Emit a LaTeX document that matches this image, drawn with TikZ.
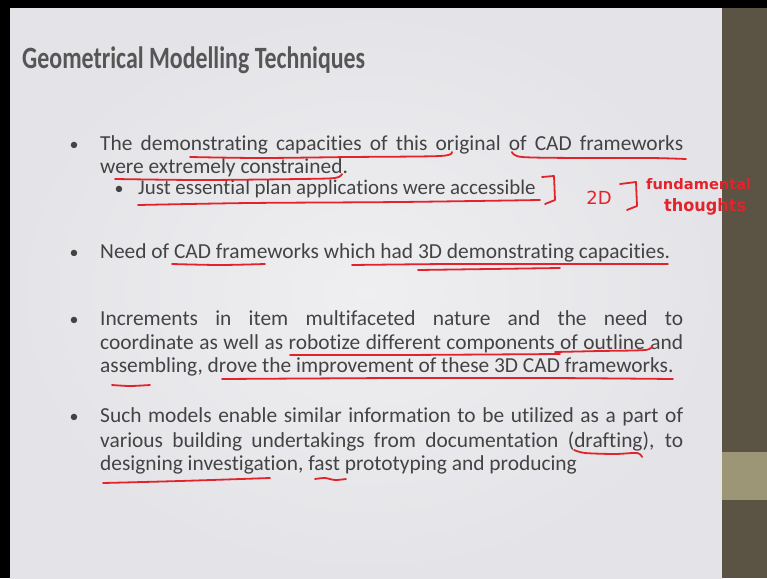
\documentclass[tikz,border=0pt]{standalone}
\usepackage{fontspec}
\setmainfont{Carlito}[Ligatures=NoCommon]
\newfontfamily\handfont{DejaVu Sans}
\definecolor{slidebg}{HTML}{E4E4E8}
\definecolor{stripc}{HTML}{5B5444}
\definecolor{stripl}{HTML}{9C9677}
\definecolor{bodyc}{HTML}{434343}
\definecolor{titlec}{HTML}{565656}
\definecolor{inkc}{HTML}{E3222B}
\tikzset{
  body/.style={anchor=base west, inner sep=0pt, text=bodyc, font=\fontsize{21.4}{25}\selectfont},
  subbody/.style={anchor=base west, inner sep=0pt, text=bodyc, font=\fontsize{20.9}{25}\selectfont},
  dot/.style={anchor=base, inner sep=0pt, text=bodyc, font=\fontsize{18}{24}\selectfont},
  ink/.style={draw=inkc, line width=1.8pt, line cap=round, line join=round},
  hand/.style={inner sep=0pt, text=inkc}
}
\begin{document}
\begin{tikzpicture}[x=1pt,y=-1pt]
\useasboundingbox (0,0) rectangle (767,578);
% background
\fill[slidebg] (0,0) rectangle (722,578);
\shade[inner color=white!40!slidebg, outer color=slidebg] (10,8) rectangle (722,578);
\fill[stripc] (722,0) rectangle (767,578);
\fill[stripl] (722,452) rectangle (767,500);
\fill[black] (0,0) rectangle (767,8);
\fill[black] (0,0) rectangle (10,578);
% title
\node[anchor=base west, inner sep=0pt, text=titlec, font=\fontsize{31}{36}\bfseries] (title) at (22,68) {\resizebox{343pt}{\height}{Geometrical Modelling Techniques}};
% bullets
\node[dot] (b1) at (74,150) {\textbullet};
\node[body] (l1) at (100,150) {\makebox[583pt][s]{The demonstrating capacities of this original of CAD frameworks}};
\node[body] (l2) at (100,173) {were extremely constrained.};
\node[dot] (b1s) at (119,194) {\textbullet};
\node[subbody] (s1) at (138,194) {Just essential plan applications were accessible};
\node[dot] (b2) at (74,258) {\textbullet};
\node[body] (l3) at (100,258) {Need of CAD frameworks which had 3D demonstrating capacities.};
\node[dot] (b3) at (74,325) {\textbullet};
\node[body] (l4) at (100,325) {\makebox[583pt][s]{Increments in item multifaceted nature and the need to}};
\node[body] (l5) at (100,349) {\makebox[583pt][s]{coordinate as well as robotize different components of outline and}};
\node[body] (l6) at (100,372) {assembling, drove the improvement of these 3D CAD frameworks.};
\node[dot] (b4) at (74,422) {\textbullet};
\node[body] (l7) at (100,422) {\makebox[583pt][s]{Such models enable similar information to be utilized as a part of}};
\node[body] (l8) at (100,447) {\makebox[583pt][s]{various building undertakings from documentation (drafting), to}};
\node[body] (l9) at (100,470) {designing investigation, fast prototyping and producing};
% red annotations
\draw[ink] plot[smooth] coordinates {(190,157) (260,158) (350,157) (440,156) (452,152)};
\draw[ink] plot[smooth] coordinates {(512,152) (522,157) (580,158) (650,158) (686,159)};
\draw[ink] plot[smooth] coordinates {(115,179) (200,180) (300,179) (335,178) (342,174)};
\draw[ink] plot[smooth] coordinates {(138,205) (250,203) (400,202) (540,200)};
\draw[ink] (542,177) -- (554,176) -- (555,200) -- (545,204);
\node[hand, font=\handfont\fontsize{18}{18}\selectfont] (twoD) at (599,198) {2D};
\draw[ink] (620,184) -- (636,182) -- (637,206) -- (627,210);
\node[hand, anchor=west] (fund) at (646,184) {\resizebox{105pt}{11pt}{\handfont\bfseries fundamental}};
\node[hand, anchor=west] (thou) at (664,207) {\resizebox{82pt}{13pt}{\handfont\bfseries thoughts}};
\draw[ink] plot[smooth] coordinates {(172,264) (220,265) (265,264)};
\draw[ink] plot[smooth] coordinates {(352,265) (450,264) (560,264) (668,264)};
\draw[ink] plot[smooth] coordinates {(418,270) (490,269) (560,268)};
\draw[ink] plot[smooth] coordinates {(290,355) (400,355) (560,354)};
\draw[ink] plot[smooth] coordinates {(555,352) (600,351) (645,350) (652,346)};
\draw[ink] plot[smooth] coordinates {(112,385) (130,386) (150,385)};
\draw[ink] plot[smooth] coordinates {(222,379) (400,378) (550,378) (673,379)};
\draw[ink] plot[smooth] coordinates {(574,450) (585,453) (615,454) (637,453) (642,457)};
\draw[ink] plot[smooth] coordinates {(103,483) (180,481) (270,478)};
\draw[ink] plot[smooth] coordinates {(315,479) (325,478) (335,480) (346,479)};
\end{tikzpicture}
\end{document}
